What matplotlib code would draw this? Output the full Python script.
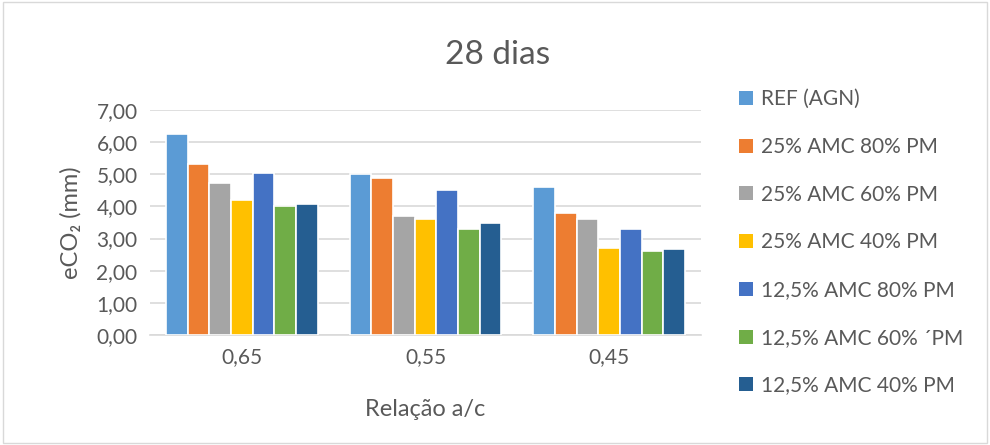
import numpy as np
import matplotlib.pyplot as plt
from matplotlib.patches import Patch, Rectangle

plt.rcParams['font.family'] = ['Lato', 'DejaVu Sans']

categories = ['0,65', '0,55', '0,45']
series_names = ['REF (AGN)', '25% AMC 80% PM', '25% AMC 60% PM', '25% AMC 40% PM',
                '12,5% AMC 80% PM', '12,5% AMC 60% ´PM', '12,5% AMC 40% PM']
values = [
    [6.25, 5.00, 4.60],
    [5.33, 4.90, 3.80],
    [4.73, 3.70, 3.60],
    [4.20, 3.60, 2.70],
    [5.04, 4.52, 3.30],
    [4.00, 3.30, 2.60],
    [4.08, 3.50, 2.67],
]
colors = ['#5B9BD5', '#ED7D31', '#A5A5A5', '#FFC000', '#4472C4', '#70AD47', '#255E91']
yticks = [0, 1, 2, 3, 4, 5, 6, 7]

text_color = '#595959'

fig = plt.figure(figsize=(9.9, 4.45), dpi=100)
ax = fig.add_axes([150 / 990, 1 - 335 / 445, 551 / 990, 225 / 445])

x = np.arange(len(categories))
pitch = 0.118
for i, (name, vals, c) in enumerate(zip(series_names, values, colors)):
    offs = (i - 3) * pitch
    ax.bar(x + offs, vals, width=pitch, color=c, edgecolor='white', linewidth=1.2, label=name, zorder=3)

ax.set_xlim(-0.5, len(categories) - 0.5)
ax.set_ylim(0, 7)
ax.set_yticks(yticks)
ax.set_yticklabels([f'{v:.2f}'.replace('.', ',') for v in yticks])
ax.set_xticks(x)
ax.set_xticklabels(categories)
ax.yaxis.grid(True, color='#D9D9D9', linewidth=1.2, zorder=0)
for s in ['top', 'right', 'left']:
    ax.spines[s].set_visible(False)
ax.spines['bottom'].set_color('#D9D9D9')
ax.spines['bottom'].set_linewidth(1.2)
ax.tick_params(axis='both', length=0, colors=text_color, labelsize=15)
ax.tick_params(axis='y', pad=9)
ax.tick_params(axis='x', pad=9)

ax.set_ylabel('eCO₂ (mm)', color=text_color, fontsize=17, labelpad=11)
ax.set_xlabel('Relação a/c', color=text_color, fontsize=17, labelpad=23)
fig.text(0.503, 0.877, '28 dias', ha='center', va='center', fontsize=24, color=text_color)

handles = [Patch(facecolor=c, edgecolor='none') for c in colors]
fig.legend(handles, series_names, loc='upper left', bbox_to_anchor=(731 / 990, 1 - 81 / 445),
           frameon=False, fontsize=15, labelcolor=text_color, handlelength=0.65, handleheight=0.65,
           handletextpad=0.4, labelspacing=1.33, borderaxespad=0)

fig.patches.append(Rectangle((0.003, 0.005), 0.994, 0.99, transform=fig.transFigure,
                             fill=False, edgecolor='#D9D9D9', linewidth=1))

fig.savefig('out.png', dpi=100)
